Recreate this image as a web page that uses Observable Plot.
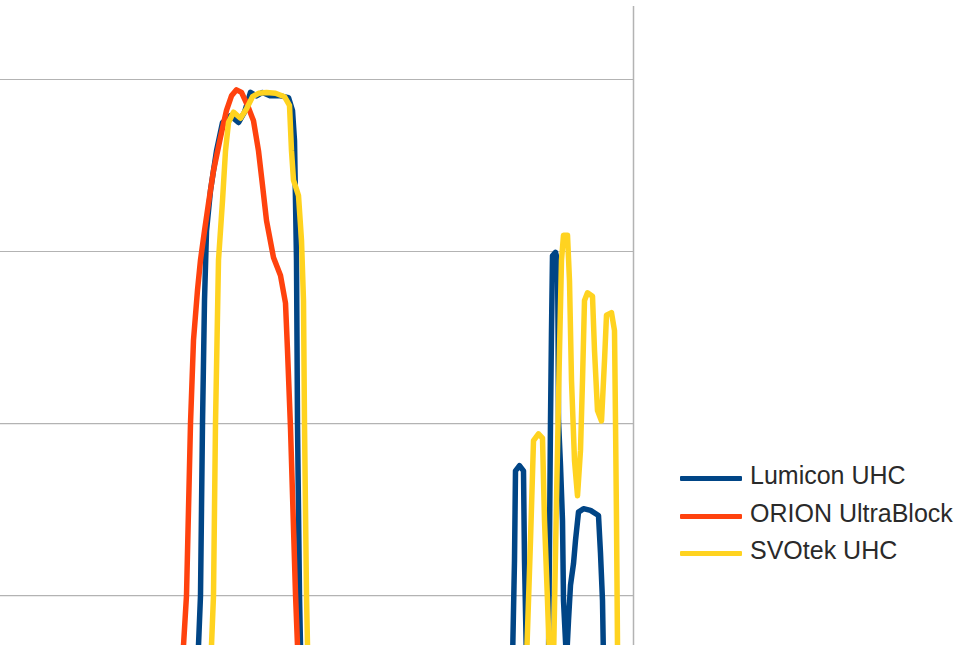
<!DOCTYPE html>
<html>
<head>
<meta charset="utf-8">
<script src="https://cdn.jsdelivr.net/npm/d3@7"></script>
<script src="https://cdn.jsdelivr.net/npm/@observablehq/plot@0.6"></script>
<style>
  html, body { margin: 0; padding: 0; background: #fff; }
  #wrap { position: relative; width: 966px; height: 645px; overflow: hidden; }
  #chart svg { display: block; }
  .sw { position: absolute; left: 680px; width: 62px; height: 5px; border-radius: 1px; }
  .lt { position: absolute; left: 750px; font-family: "Liberation Sans", Arial, sans-serif; font-size: 25px; line-height: 1; color: #2a2a2a; white-space: nowrap; }
</style>
</head>
<body>
<div id="wrap">
  <div id="chart"></div>
  <div id="legend"></div>
</div>
<script>
// ---- data (wavelength in nm, transmission in %) ----
const seriesNames = ["Lumicon UHC", "ORION UltraBlock", "SVOtek UHC"];
const seriesColors = ["#004586", "#ff420e", "#ffd320"];

const lumiconWl = [440, 460, 463, 464, 465, 466, 467, 468, 470, 473, 476, 480, 484, 487, 490, 493, 496, 500, 505, 509, 511, 512, 512.5, 513, 513.5, 514.5, 515, 516, 540, 600, 620, 621, 622, 622.5, 624.5, 626.5, 627, 628, 635, 639, 640, 640.5, 641, 642.5, 643.5, 643.8, 644, 645, 646, 646.5, 648, 649, 650, 651.5, 652.5, 654, 656.5, 660, 664, 665, 666, 666.5, 675, 681.5];
const lumiconT  = [1, 5, 10, 14.2, 20.0, 40.0, 54.3, 62.4, 67.1, 71.7, 75.0, 75.8, 75.0, 76.2, 78.5, 78.1, 78.5, 78.1, 78.1, 77.9, 76.4, 72.9, 65.9, 59.0, 40.0, 20.0, 14.2, 8, 2, 3, 8, 12.4, 24.1, 34.5, 35.1, 34.5, 24.1, 12.4, 8, 12.4, 40.3, 50.8, 59.5, 59.9, 59.0, 50.2, 40.3, 35.1, 28.7, 19.4, 12.4, 17.1, 21.2, 23.7, 26.4, 29.7, 30.1, 29.9, 29.3, 24.9, 19.4, 12.4, 5, 3];

const orionWl = [440, 455, 456, 456.5, 458, 460, 461.5, 463.5, 465, 467, 469, 471.5, 475, 478, 480.5, 483, 485.5, 488.5, 491.5, 494, 496, 498, 501.5, 505, 507.5, 508.5, 510, 512.5, 513.5, 514, 520, 600, 681.5];
const orionT  = [1, 8, 12.4, 14.2, 20.0, 40.0, 49.7, 55.5, 59.0, 62.4, 65.6, 69.4, 73.3, 76.4, 78.1, 78.8, 78.5, 77.0, 75.2, 71.7, 67.7, 63.6, 59.3, 57.2, 54.0, 48.5, 39.5, 20.2, 14.2, 12.4, 5, 2, 3];

const svotekWl = [440, 465, 470, 470.5, 471.5, 472.5, 474, 476, 477.5, 479, 481.5, 485, 488, 491, 494, 498, 502.5, 507, 509.5, 510.5, 511.5, 514, 515.5, 516.5, 517, 518, 518.5, 519, 525, 600, 627, 628, 630, 631.5, 634, 636, 637, 638.5, 639.5, 641.5, 643, 644.5, 645.5, 646.5, 648.5, 649.5, 650.5, 652, 653.5, 655, 656, 657, 658.5, 661, 662, 663.5, 665.5, 667, 668, 670.5, 672, 672.5, 673, 673.5, 674, 681.5];
const svotekT  = [1, 8, 12.4, 14.2, 20.0, 40.0, 59.0, 65.9, 71.7, 75.0, 76.2, 75.5, 76.6, 78.0, 78.4, 78.5, 78.4, 78.0, 77.0, 71.7, 68.3, 66.5, 61.3, 54.3, 40.0, 20.0, 14.2, 12.4, 6, 4, 8, 12.4, 26.4, 38.0, 38.8, 38.3, 28.7, 19.4, 12.4, 12.4, 31.1, 48.5, 59.0, 61.9, 61.9, 56.6, 45.0, 35.7, 31.6, 36.9, 45.0, 54.3, 55.2, 54.8, 48.5, 41.5, 40.3, 47.3, 52.6, 52.9, 50.8, 40.3, 28.7, 14.2, 12.4, 8];

const gridValues = [20, 40, 60, 80];
const xDomain = [365, 681.5];
const yDomain = [14.19, 88.49];

// ---- build table ----
const wls = [lumiconWl, orionWl, svotekWl];
const ts = [lumiconT, orionT, svotekT];
const rows = [];
seriesNames.forEach((name, i) => {
  wls[i].forEach((w, j) => rows.push({series: name, wl: w, t: ts[i][j]}));
});

const chart = Plot.plot({
  width: 966,
  height: 645,
  marginLeft: 0,
  marginRight: 333,
  marginTop: 6,
  marginBottom: 0,
  x: {domain: xDomain, axis: null},
  y: {domain: yDomain, axis: null},
  color: {domain: seriesNames, range: seriesColors},
  marks: [
    Plot.ruleY(gridValues, {stroke: "#b3b3b3", strokeWidth: 1.2}),
    Plot.ruleX([xDomain[1]], {stroke: "#b3b3b3", strokeWidth: 1.5}),
    ...seriesNames.map(name => Plot.line(rows.filter(d => d.series === name), {
      x: "wl", y: "t", stroke: "series", strokeWidth: 5.5,
      strokeLinejoin: "round", strokeLinecap: "butt", clip: true
    }))
  ]
});
document.getElementById("chart").appendChild(chart);

// ---- legend ----
const legend = document.getElementById("legend");
const lineYs = [478, 516, 553];
seriesNames.forEach((name, i) => {
  const sw = document.createElement("div");
  sw.className = "sw";
  sw.style.top = (lineYs[i] - 2.5) + "px";
  sw.style.background = seriesColors[i];
  legend.appendChild(sw);
  const lt = document.createElement("div");
  lt.className = "lt";
  lt.style.top = (lineYs[i] - 14.7) + "px";
  lt.textContent = name;
  legend.appendChild(lt);
});
</script>
</body>
</html>
